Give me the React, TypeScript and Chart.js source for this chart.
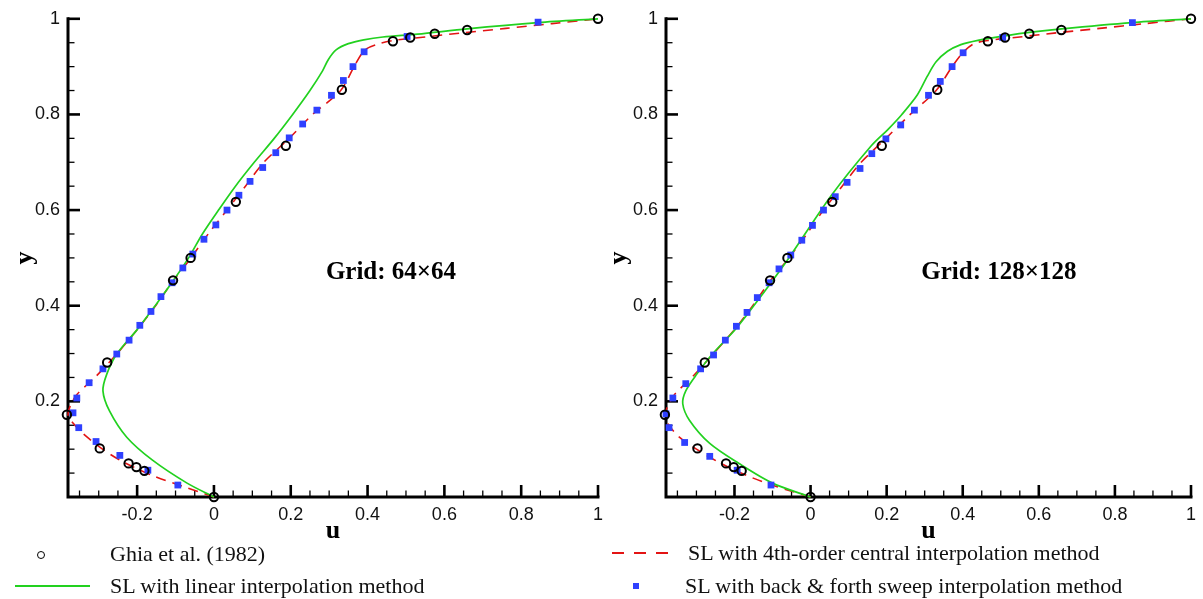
import React, { useEffect, useRef } from "react";
import { Chart, registerables } from "chart.js";

Chart.register(...registerables);

// Ghia et al. (1982), Re = 1000, u along the vertical centreline
const ghiaU = [1.0, 0.65928, 0.57492, 0.51117, 0.46604, 0.33304, 0.18719, 0.05702, -0.0608, -0.10648, -0.27805, -0.38289, -0.2973, -0.2222, -0.20196, -0.18109, 0.0];
const ghiaY = [1.0, 0.9766, 0.9688, 0.9609, 0.9531, 0.8516, 0.7344, 0.6172, 0.5, 0.4531, 0.2813, 0.1719, 0.1016, 0.0703, 0.0625, 0.0547, 0.0];

// Grid 64x64 — SL with linear interpolation
const lin64U = [0, -0.07, -0.16, -0.227, -0.272, -0.289, -0.279, -0.253, -0.2, -0.153, -0.108, -0.066, -0.03, 0.012, 0.056, 0.105, 0.157, 0.205, 0.25, 0.282, 0.298, 0.318, 0.35, 0.39, 0.44, 0.53, 0.659, 0.844, 1];
const lin64Y = [0, 0.029, 0.077, 0.125, 0.18, 0.222, 0.257, 0.299, 0.35, 0.4, 0.45, 0.5, 0.55, 0.6, 0.65, 0.7, 0.75, 0.8, 0.85, 0.89, 0.915, 0.935, 0.948, 0.956, 0.962, 0.968, 0.979, 0.992, 1];
// Grid 64x64 — SL with 4th-order central interpolation
const c4_64U = [0, -0.08, -0.16, -0.24, -0.29, -0.33, -0.362, -0.38, -0.372, -0.355, -0.31, -0.252, -0.2, -0.152, -0.108, -0.06, -0.015, 0.034, 0.082, 0.13, 0.196, 0.257, 0.33, 0.365, 0.393, 0.43, 0.47, 0.55, 0.64, 0.76, 0.88, 1];
const c4_64Y = [0, 0.022, 0.045, 0.075, 0.1, 0.125, 0.15, 0.172, 0.195, 0.216, 0.25, 0.3, 0.35, 0.4, 0.45, 0.5, 0.55, 0.6, 0.65, 0.7, 0.75, 0.8, 0.85, 0.9, 0.935, 0.948, 0.955, 0.962, 0.97, 0.98, 0.99, 1];
// Grid 64x64 — SL with back & forth sweep interpolation
const bf64U = [-0.094, -0.172, -0.245, -0.307, -0.352, -0.367, -0.357, -0.325, -0.289, -0.253, -0.221, -0.193, -0.164, -0.138, -0.109, -0.081, -0.055, -0.026, 0.005, 0.034, 0.065, 0.094, 0.127, 0.161, 0.196, 0.231, 0.268, 0.306, 0.337, 0.362, 0.391, 0.503, 0.844];
const bf64Y = [0.025, 0.056, 0.087, 0.116, 0.145, 0.176, 0.207, 0.239, 0.268, 0.299, 0.328, 0.359, 0.388, 0.419, 0.448, 0.479, 0.508, 0.539, 0.569, 0.6, 0.631, 0.66, 0.689, 0.72, 0.751, 0.78, 0.809, 0.84, 0.871, 0.9, 0.931, 0.963, 0.993];

// Grid 128x128 — SL with linear interpolation
const lin128U = [0, -0.1, -0.188, -0.265, -0.318, -0.336, -0.328, -0.299, -0.258, -0.195, -0.135, -0.057, 0.055, 0.159, 0.205, 0.24, 0.28, 0.307, 0.33, 0.36, 0.395, 0.44, 0.516, 0.58, 0.66, 0.845, 1];
const lin128Y = [0, 0.029, 0.07, 0.112, 0.16, 0.195, 0.222, 0.257, 0.299, 0.353, 0.415, 0.5, 0.631, 0.734, 0.77, 0.8, 0.84, 0.88, 0.91, 0.932, 0.946, 0.955, 0.965, 0.972, 0.979, 0.992, 1];
// Grid 128x128 — SL with 4th-order central interpolation
const c4_128U = [0, -0.09, -0.168, -0.235, -0.3, -0.345, -0.372, -0.383, -0.372, -0.356, -0.312, -0.255, -0.2, -0.152, -0.108, -0.057, -0.01, 0.034, 0.083, 0.133, 0.198, 0.262, 0.33, 0.372, 0.401, 0.43, 0.47, 0.55, 0.64, 0.76, 0.88, 1];
const c4_128Y = [0, 0.022, 0.045, 0.07, 0.1, 0.125, 0.15, 0.172, 0.195, 0.216, 0.25, 0.3, 0.35, 0.4, 0.45, 0.5, 0.55, 0.6, 0.65, 0.7, 0.75, 0.8, 0.85, 0.9, 0.93, 0.948, 0.955, 0.962, 0.97, 0.98, 0.99, 1];
// Grid 128x128 — SL with back & forth sweep interpolation
const bf128U = [-0.104, -0.193, -0.265, -0.331, -0.372, -0.38, -0.362, -0.328, -0.289, -0.255, -0.224, -0.195, -0.167, -0.14, -0.109, -0.083, -0.052, -0.023, 0.005, 0.034, 0.065, 0.096, 0.13, 0.161, 0.198, 0.237, 0.273, 0.31, 0.341, 0.372, 0.401, 0.505, 0.846];
const bf128Y = [0.025, 0.056, 0.085, 0.114, 0.145, 0.174, 0.207, 0.237, 0.268, 0.297, 0.328, 0.357, 0.386, 0.417, 0.448, 0.477, 0.506, 0.537, 0.568, 0.6, 0.628, 0.658, 0.687, 0.718, 0.749, 0.778, 0.809, 0.84, 0.869, 0.9, 0.929, 0.961, 0.992];

const xTickValues = [-0.2, 0, 0.2, 0.4, 0.6, 0.8, 1];
const yTickValues = [0.2, 0.4, 0.6, 0.8, 1];
const xRange = [-0.38, 1];
const yRange = [0, 1];
const minorStep = 0.05;

const legendLabels = [
  "Ghia et al. (1982)",
  "SL with linear interpolation method",
  "SL with 4th-order central interpolation method",
  "SL with back & forth sweep interpolation method",
];

const GREEN = "#22d11f";
const RED = "#e31414";
const BLUE = "#2f40ff";

const pts = (us: number[], ys: number[]) => us.map((u, i) => ({ x: u, y: ys[i] }));

const isMajor = (v: number) => Math.abs(v / 0.2 - Math.round(v / 0.2)) < 1e-6;

const axesPlugin = {
  id: "inwardAxes",
  beforeDatasetsDraw(chart: any) {
    const { ctx, chartArea, scales } = chart;
    const xs = scales.x;
    const ys = scales.y;
    const { left, right, top, bottom } = chartArea;
    ctx.save();
    ctx.strokeStyle = "#000";
    for (let k = Math.ceil(xRange[0] / minorStep); k * minorStep <= xRange[1] + 1e-9; k++) {
      const v = Math.round(k * minorStep * 100) / 100;
      const px = xs.getPixelForValue(v);
      const major = isMajor(v);
      ctx.lineWidth = major ? 2.6 : 1.3;
      ctx.beginPath();
      ctx.moveTo(px, bottom);
      ctx.lineTo(px, bottom - (major ? 12 : 6.5));
      ctx.stroke();
    }
    for (let k = 1; k * minorStep <= yRange[1] + 1e-9; k++) {
      const v = Math.round(k * minorStep * 100) / 100;
      const py = ys.getPixelForValue(v);
      const major = isMajor(v);
      ctx.lineWidth = major ? 2.6 : 1.3;
      ctx.beginPath();
      ctx.moveTo(left, py);
      ctx.lineTo(left + (major ? 12 : 6.5), py);
      ctx.stroke();
    }
    ctx.lineWidth = 3;
    ctx.lineCap = "square";
    ctx.beginPath();
    ctx.moveTo(left, top);
    ctx.lineTo(left, bottom);
    ctx.lineTo(right, bottom);
    ctx.stroke();
    ctx.restore();
  },
  afterDraw(chart: any, _args: any, opts: any) {
    if (!opts || !opts.text) return;
    const { ctx, scales } = chart;
    ctx.save();
    ctx.font = 'bold 25px "Liberation Serif", "Times New Roman", serif';
    ctx.fillStyle = "#000";
    ctx.textAlign = "center";
    ctx.textBaseline = "middle";
    ctx.fillText(opts.text, scales.x.getPixelForValue(opts.u), scales.y.getPixelForValue(opts.y));
    ctx.restore();
  },
};

type PanelProps = {
  left: number;
  width: number;
  padRight: number;
  yTitlePad: number;
  gridText: string;
  gridU: number;
  linU: number[]; linY: number[];
  c4U: number[]; c4Y: number[];
  bfU: number[]; bfY: number[];
};

function Panel(p: PanelProps) {
  const ref = useRef<HTMLCanvasElement | null>(null);
  useEffect(() => {
    if (!ref.current) return;
    const tickFont = { family: '"Liberation Sans", Arial, sans-serif', size: 18 };
    const titleFont = { family: '"Liberation Serif", "Times New Roman", serif', size: 26, weight: "bold" as const, lineHeight: 1 };
    const chart = new Chart(ref.current, {
      type: "scatter",
      data: {
        datasets: [
          {
            label: legendLabels[0],
            data: pts(ghiaU, ghiaY),
            showLine: false,
            pointStyle: "circle",
            pointRadius: 4.2,
            borderColor: "#000",
            borderWidth: 2,
            backgroundColor: "rgba(255,255,255,0)",
            clip: false,
            order: 0,
          },
          {
            label: legendLabels[3],
            data: pts(p.bfU, p.bfY),
            showLine: false,
            pointStyle: "rect",
            pointRadius: 4.8,
            borderWidth: 0,
            backgroundColor: BLUE,
            borderColor: BLUE,
            clip: false,
            order: 1,
          },
          {
            label: legendLabels[1],
            data: pts(p.linU, p.linY),
            showLine: true,
            pointRadius: 0,
            borderColor: GREEN,
            borderWidth: 1.7,
            tension: 0.3,
            clip: false,
            order: 2,
          },
          {
            label: legendLabels[2],
            data: pts(p.c4U, p.c4Y),
            showLine: true,
            pointRadius: 0,
            borderColor: RED,
            borderWidth: 1.6,
            borderDash: [10, 7],
            tension: 0.3,
            clip: false,
            order: 3,
          },
        ],
      } as any,
      options: {
        animation: false,
        responsive: false,
        events: [],
        layout: { padding: { left: 0, right: p.padRight, top: 15, bottom: 0 } },
        plugins: {
          legend: { display: false },
          tooltip: { enabled: false },
          inwardAxes: { text: p.gridText, u: p.gridU, y: 0.469 },
        } as any,
        scales: {
          x: {
            type: "linear",
            min: xRange[0],
            max: xRange[1],
            grid: { display: false, drawTicks: false },
            border: { display: false },
            ticks: {
              padding: 7,
              font: tickFont,
              color: "#111",
              maxRotation: 0,
              autoSkip: false,
              callback: (v: any) => String(v),
            },
            afterBuildTicks: (s: any) => {
              s.ticks = xTickValues.map((v) => ({ value: v }));
            },
            afterFit: (s: any) => {
              s.height = 48;
            },
            title: { display: true, text: "u", font: titleFont, color: "#000", padding: { top: 0, bottom: 1 } },
          },
          y: {
            type: "linear",
            min: yRange[0],
            max: yRange[1],
            grid: { display: false, drawTicks: false },
            border: { display: false },
            ticks: {
              padding: 8,
              font: tickFont,
              color: "#111",
              autoSkip: false,
              callback: (v: any) => String(v),
            },
            afterBuildTicks: (s: any) => {
              s.ticks = yTickValues.map((v) => ({ value: v }));
            },
            afterFit: (s: any) => {
              s.width = 68;
            },
            title: { display: true, text: "y", font: titleFont, color: "#000", padding: { top: p.yTitlePad, bottom: 0 } },
          },
        },
      } as any,
      plugins: [axesPlugin as any],
    });
    return () => chart.destroy();
  }, []);
  return (
    <canvas
      ref={ref}
      width={p.width}
      height={545}
      style={{ position: "absolute", left: p.left, top: 0, width: p.width, height: 545, display: "block" }}
    />
  );
}

const legendText: React.CSSProperties = {
  position: "absolute",
  fontFamily: '"Liberation Serif", "Times New Roman", serif',
  fontSize: 22,
  color: "#111",
  whiteSpace: "nowrap",
  lineHeight: "24px",
};

export default function App() {
  useEffect(() => {
    document.body.style.margin = "0";
  }, []);
  return (
    <div style={{ position: "fixed", left: 0, top: 0, width: 1203, height: 599, background: "#fff", overflow: "hidden" }}>
      <Panel left={0} width={612} padRight={14} yTitlePad={12} gridText="Grid: 64×64" gridU={0.461}
        linU={lin64U} linY={lin64Y} c4U={c4_64U} c4Y={c4_64Y} bfU={bf64U} bfY={bf64Y} />
      <Panel left={598} width={605} padRight={7} yTitlePad={8} gridText="Grid: 128×128" gridU={0.495}
        linU={lin128U} linY={lin128Y} c4U={c4_128U} c4Y={c4_128Y} bfU={bf128U} bfY={bf128Y} />
      {/* legend */}
      <div style={{ position: "absolute", left: 37, top: 551, width: 6, height: 6, border: "1.5px solid #000", borderRadius: "50%" }} />
      <div style={{ ...legendText, left: 110, top: 542 }}>{legendLabels[0]}</div>
      <div style={{ position: "absolute", left: 15, top: 585, width: 75, height: 2, background: GREEN }} />
      <div style={{ ...legendText, left: 110, top: 574 }}>{legendLabels[1]}</div>
      <div style={{ position: "absolute", left: 612, top: 552, width: 58, height: 2, background: `repeating-linear-gradient(to right, ${RED} 0 12px, transparent 12px 22px)` }} />
      <div style={{ ...legendText, left: 688, top: 541 }}>{legendLabels[2]}</div>
      <div style={{ position: "absolute", left: 633, top: 583, width: 6, height: 6, background: BLUE }} />
      <div style={{ ...legendText, left: 685, top: 574 }}>{legendLabels[3]}</div>
    </div>
  );
}
